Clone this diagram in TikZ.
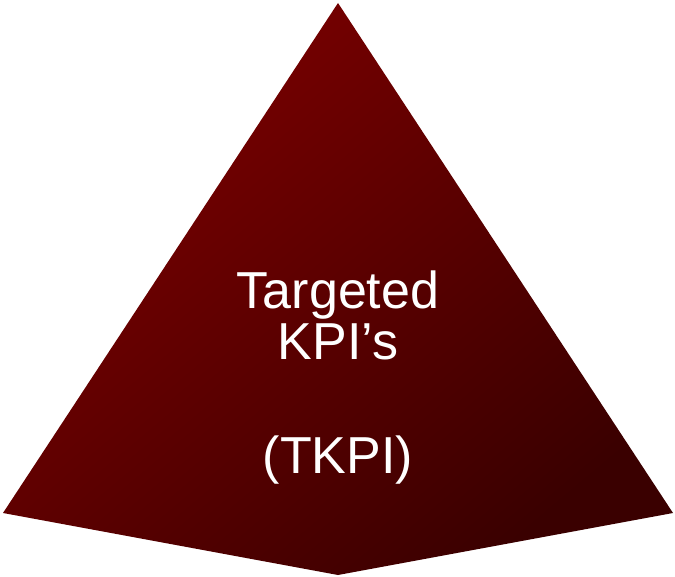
\documentclass[tikz,border=0pt]{standalone}
\usepackage{fontspec}
\setmainfont{Liberation Sans}
\usepackage{tikz}
\definecolor{peakTint}{HTML}{7C0000}
\definecolor{baseDeep}{HTML}{3A0000}
\tikzset{
  face/.style={top color=peakTint, bottom color=baseDeep, shading angle=40},
  label/.style={inner sep=0pt, anchor=base, text=white, font=\fontsize{52}{57}\selectfont},
}
\begin{document}
\begin{tikzpicture}[x=1pt, y=-1pt]
  \useasboundingbox (0,0) rectangle (675,577);
  \coordinate (apex) at (338,3);
  \coordinate (lft) at (3,513);
  \coordinate (bot) at (338,575);
  \coordinate (rgt) at (673,513);
  \shade[face] (apex) -- (rgt) -- (bot) -- (lft) -- cycle;

  \node[label] (name) at (338,309) {Targeted};
  \node[label] (kpi) at (338,360) {KPI’s};
  \node[label] (abbr) at (338,473) {(TKPI)};
\end{tikzpicture}
\end{document}
